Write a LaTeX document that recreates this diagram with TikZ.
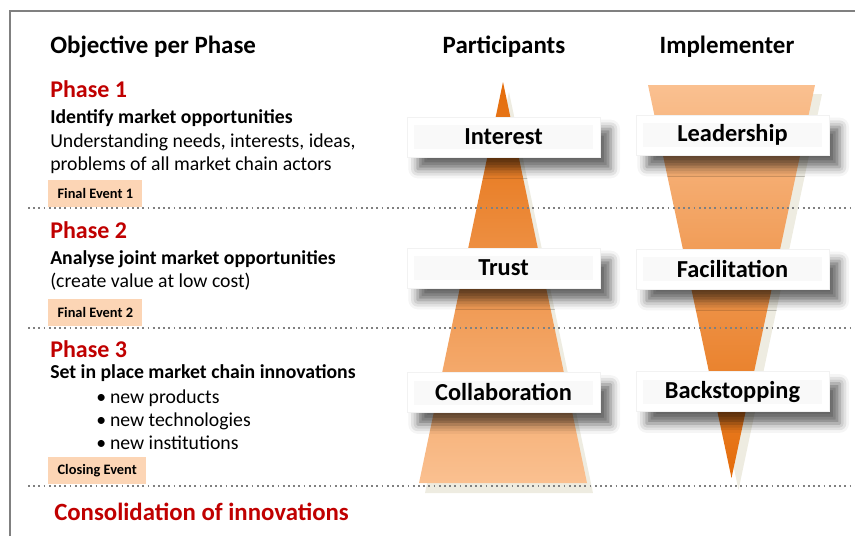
\documentclass[tikz,border=0pt]{standalone}
\usepackage{fontspec}
\setmainfont{Carlito}
\usepackage{xcolor}
\usepackage{tikz}
\usetikzlibrary{shadows.blur}

\definecolor{phasered}{HTML}{C00000}
\definecolor{deeporange}{HTML}{E46C0A}
\definecolor{paleorange}{HTML}{FAC090}
\definecolor{eventfill}{HTML}{FCD5B5}
\definecolor{wedgeshadow}{HTML}{EEECE1}

\begin{document}
\begin{tikzpicture}[x=0.75pt, y=-0.75pt,
    heading/.style={font=\fontsize{18.7}{21}\selectfont\bfseries, inner sep=0pt, anchor=base west},
    phase/.style={font=\fontsize{18}{21}\selectfont\bfseries, inner sep=0pt, anchor=base west, text=phasered},
    goal/.style={font=\fontsize{14.8}{17}\selectfont\bfseries, inner sep=0pt, anchor=base west},
    body/.style={font=\fontsize{14.8}{17}\selectfont, inner sep=0pt, anchor=base west},
    event/.style={fill=eventfill, font=\fontsize{10.8}{12}\selectfont\bfseries, inner xsep=7pt,
        minimum height=20pt, anchor=south west},
    dotline/.style={gray, line width=1.4pt, dash pattern=on 1.3pt off 2.6pt},
    boxtag/.style={fill=white, draw=gray!10, minimum width=144.75pt, minimum height=30pt,
        font=\fontsize{18.3}{21}\selectfont\bfseries,
        blur shadow={shadow xshift=8pt, shadow yshift=-9pt, shadow blur radius=7pt, shadow opacity=60},
        path picture={\fill[gray!5] ([shift={(5pt,-6pt)}]path picture bounding box.north west)
            rectangle ([shift={(-5pt,6pt)}]path picture bounding box.south east);}}]
    \useasboundingbox (0,0) rectangle (855,536);
    % frame
    \draw[gray, line width=1.5pt] (10,536) -- (10,11) -- (855,11);

    % wedges
    \fill[wedgeshadow] (509,92) -- (593,493) -- (425,493) -- cycle;
    \shade[top color=deeporange, bottom color=paleorange] (503,82) -- (587,483) -- (419,483) -- cycle;
    \fill[wedgeshadow] (655,94) -- (822,94) -- (738.5,490) -- cycle;
    \shade[top color=paleorange, bottom color=deeporange] (648,85) -- (815,85) -- (731.5,478) -- cycle;

    % phase borders
    \foreach \y in {208, 328, 486} {
        \draw[dotline] (28,\y) -- (855,\y);
    }

    % column heads
    \node (objhead) at (50,53) [heading] {Objective per Phase};
    \node (parthead) at (504,53) [heading, anchor=base] {Participants};
    \node (implhead) at (727,53) [heading, anchor=base] {Implementer};

    % boxes on the wedges
    \foreach \n/\x/\y/\t in {int/503.5/137/Interest, tru/503.5/268/Trust, col/503.5/392.5/Collaboration,
        lea/732.5/135/Leadership, fac/732.5/269/Facilitation, bac/732.5/391.5/Backstopping} {
        \node (\n) at (\x,\y) [boxtag] {\t};
    }

    % phase 1
    \node (ph1) at (50,97) [phase] {Phase 1};
    \node (ph1goal) at (50,123) [goal] {Identify market opportunities};
    \node (ph1a) at (50,147) [body] {Understanding needs, interests, ideas,};
    \node (ph1b) at (50,170) [body] {problems of all market chain actors};
    \node (ev1) at (48,207) [event] {Final Event 1};

    % phase 2
    \node (ph2) at (50,238) [phase] {Phase 2};
    \node (ph2goal) at (50,264) [goal] {Analyse joint market opportunities};
    \node (ph2a) at (50,287) [body] {(create value at low cost)};
    \node (ev2) at (48,326) [event] {Final Event 2};

    % phase 3
    \node (ph3) at (50,357) [phase] {Phase 3};
    \node (ph3goal) at (50,378) [goal] {Set in place market chain innovations};
    \foreach \n/\y/\t in {prod/403/new products, tech/426/new technologies, inst/449/new institutions} {
        \node (\n) at (96,\y) [body] {\textbullet\hspace{3pt}\t};
    }
    \node (ev3) at (48,484) [event] {Closing Event};

    \node (consol) at (54,520) [phase, font=\fontsize{18.6}{21}\selectfont\bfseries] {Consolidation of innovations};
\end{tikzpicture}
\end{document}
